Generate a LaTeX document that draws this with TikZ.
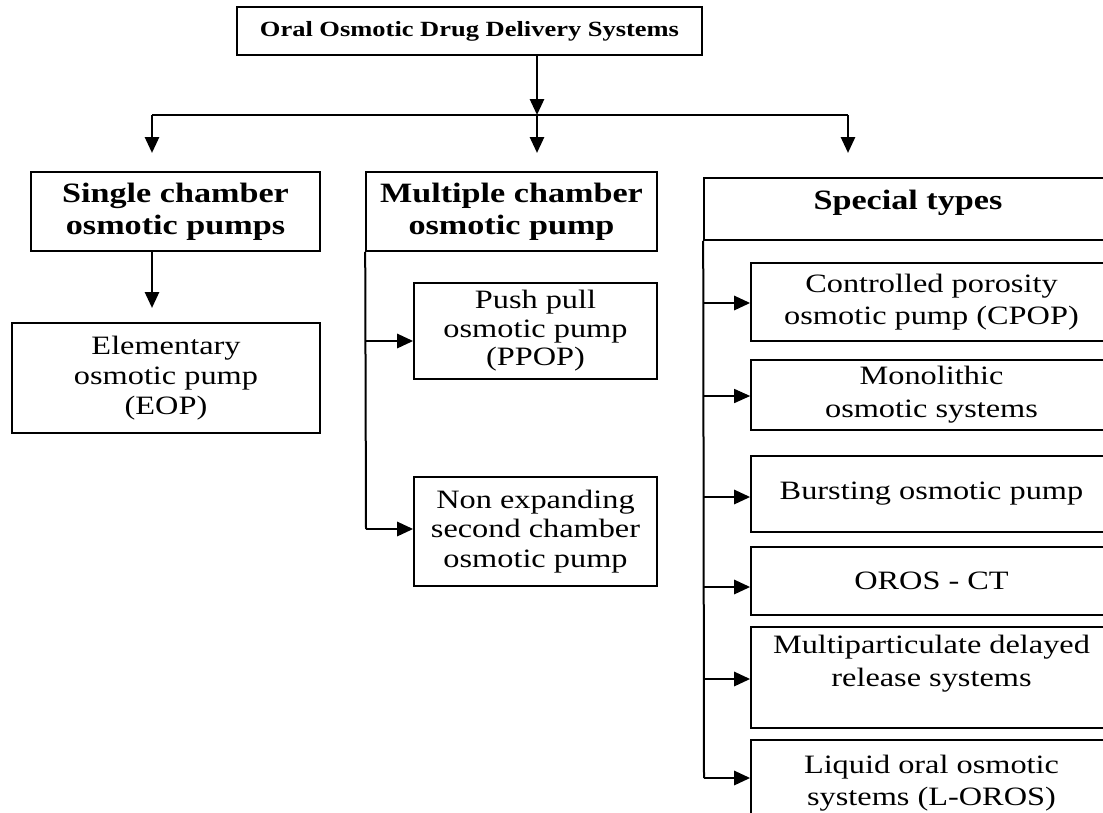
\documentclass[tikz,border=0pt]{standalone}
\usepackage{fontspec}
\setmainfont[FakeStretch=1.22]{Liberation Serif}
\usetikzlibrary{arrows.meta}
\newcommand{\ttlfont}{\fontsize{21.7}{26}\selectfont\bfseries}
\newcommand{\hdfont}{\fontsize{28}{32}\selectfont\bfseries}
\newcommand{\bodyfont}{\fontsize{26.5}{31}\selectfont}
\tikzset{
  box/.style={draw, line width=1.6pt, inner sep=0pt, align=center, font=\bodyfont},
  hbox/.style={box, font=\hdfont},
  link/.style={line width=2.8pt},
  arr/.style={link, -{Triangle[length=16pt,width=14pt]}},
}
\begin{document}
\begin{tikzpicture}[x=1pt,y=-1pt]
\useasboundingbox (0,0) rectangle (1103,812);
\clip (0,0) rectangle (1103,812);
\fill[white] (0,0) rectangle (1103,812);

% title
\node[box, font=\ttlfont, minimum width=465, minimum height=48] (title) at (469.5,31) {Oral Osmotic Drug Delivery Systems};

% hub
\coordinate (hub) at (537,115);
\coordinate (hl) at (152,115);
\coordinate (hr) at (848,115);
\coordinate (a1) at (152,153);
\coordinate (a2) at (537,153);
\coordinate (a3) at (848,153);
\draw[arr] (title.south -| hub) -- (hub);
\draw[link, line width=1.8pt] (hl) -- (hr);
\draw[arr] (hl) -- (a1);
\draw[arr] (hub) -- (a2);
\draw[arr] (hr) -- (a3);

% left column
\node[hbox, minimum width=289, minimum height=79] (single) at (175.5,211.5) {Single chamber\\osmotic pumps};
\node[box, minimum width=308, minimum height=110, font=\fontsize{26.5}{30}\selectfont] (eop) at (166,378) {Elementary\\osmotic pump\\(EOP)};
\coordinate (a4) at (152,308);
\draw[arr] (single.south -| a4) -- (a4);

% middle column
\node[hbox, minimum width=291, minimum height=79] (multi) at (511.5,211.5) {Multiple chamber\\osmotic pump};
\node[box, minimum width=243, minimum height=96, font=\fontsize{26.5}{28.5}\selectfont] (ppop) at (535.5,331) {Push pull\\osmotic pump\\(PPOP)};
\node[box, minimum width=243, minimum height=109, font=\fontsize{26.5}{29.5}\selectfont] (nonexp) at (535.5,531.5) {Non expanding\\second chamber\\osmotic pump};
\coordinate (m1) at (366,341);
\coordinate (m2) at (366,529);
\draw[link, line width=2pt] (multi.south west) -- (m2);
\draw[arr] (m1) -- (m1 -| ppop.west);
\draw[arr] (m2) -- (m2 -| nonexp.west);

% right column
\node[hbox, minimum width=408, text height=31, text depth=31] (special) at (908,209) {Special types};
\node[box, minimum width=361, minimum height=78, font=\fontsize{26.5}{32}\selectfont] (cpop) at (931.5,302) {Controlled porosity\\osmotic pump (CPOP)};
\node[box, minimum width=361, minimum height=70, font=\fontsize{26.5}{33}\selectfont] (mono) at (931.5,395) {Monolithic\\osmotic systems};
\node[box, minimum width=361, minimum height=76] (burst) at (931.5,494) {Bursting osmotic pump};
\node[box, minimum width=361, minimum height=68] (oros) at (931.5,581) {OROS - CT};
\node[box, minimum width=361, minimum height=101, font=\fontsize{26.5}{33}\selectfont] (mdr) at (931.5,677.5) {Multiparticulate delayed\\release systems\\\mbox{}};
\node[box, minimum width=361, minimum height=86, font=\fontsize{26.5}{32}\selectfont] (loros) at (931.5,783) {Liquid oral osmotic\\systems (L-OROS)};

\coordinate (s1) at (704,303);
\coordinate (s2) at (704,396);
\coordinate (s3) at (704,497);
\coordinate (s4) at (704,587);
\coordinate (s5) at (704,679);
\coordinate (s6) at (704,778);
\draw[link, line width=2pt] (special.south west) -- (s6);
\draw[arr] (s1) -- (s1 -| cpop.west);
\draw[arr, line width=1.4pt] (s2) -- (s2 -| mono.west);
\draw[arr] (s3) -- (s3 -| burst.west);
\draw[arr] (s4) -- (s4 -| oros.west);
\draw[arr] (s5) -- (s5 -| mdr.west);
\draw[arr] (s6) -- (s6 -| loros.west);
\end{tikzpicture}
\end{document}
